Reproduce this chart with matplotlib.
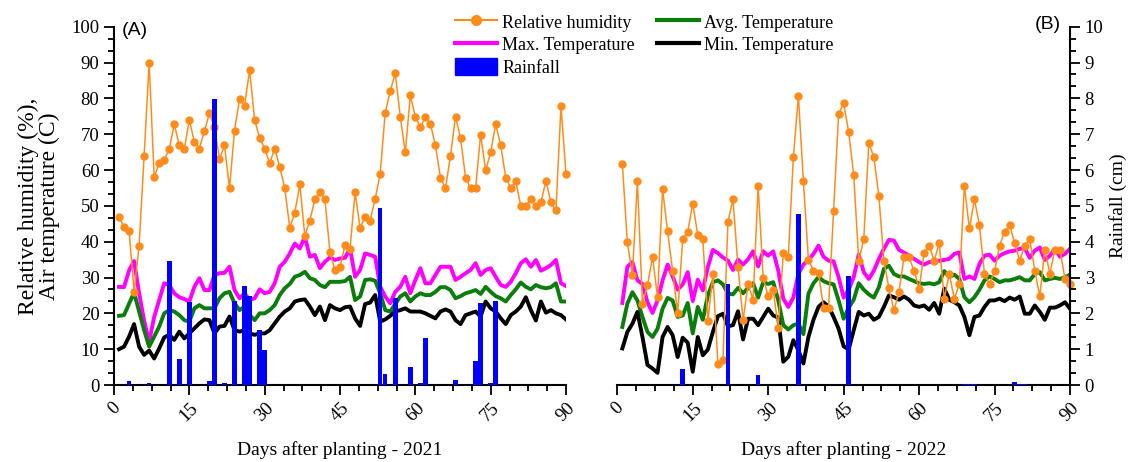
import matplotlib
matplotlib.use("Agg")
import matplotlib.pyplot as plt
import numpy as np
from matplotlib.lines import Line2D
from matplotlib.patches import Patch
from matplotlib.ticker import MultipleLocator

plt.rcParams['font.family'] = ['Liberation Serif', 'DejaVu Serif']

days = list(range(1, 91))

# ---------------- 2021 ----------------
rh_2021 = [47.0, 44.0, 43.1, 26, 38.9, 64, 90, 58, 62, 62.8,
           65.9, 72.8, 66.9, 65.9, 74, 67.8, 66, 70.9, 75.8, 72.1,
           63, 66.9, 54.9, 71, 79.9, 78, 87.9, 74, 68.9, 66,
           61.9, 66, 60.9, 54.9, 43.9, 48.1, 56, 41.6, 45.9, 51.9,
           54, 51.9, 37, 32.1, 33, 39, 38, 53.8, 43.9, 47,
           45.9, 51.9, 58.9, 76, 82, 87, 74.9, 64.9, 80.8, 74.9,
           71.9, 74.9, 72.9, 66.9, 57.9, 54.9, 64, 74.9, 68.9, 57.9,
           54.9, 54.9, 69.9, 59.9, 64.9, 72.8, 66.9, 57.9, 54.9, 56.9,
           49.9, 49.9, 51.9, 49.9, 51, 56.9, 51, 48.8, 77.9, 58.9]
tmax_2021 = [27.4, 27.3, 32, 34.6, 25.6, 18, 12.1, 19, 23.7, 28.4,
             27.9, 25.6, 24.5, 24, 23.3, 27.4, 29.8, 26.5, 26.5, 30.7,
             31.2, 31.3, 33, 26.5, 24.2, 25.6, 23.7, 24.2, 26.7, 25.6,
             26, 28.4, 33, 34.4, 36.7, 39.5, 38.1, 41.4, 35.8, 36.3,
             32.6, 34.4, 35.6, 34.9, 35.3, 35.5, 38.1, 30.2, 32.1, 36.7,
             36.3, 35.8, 27.4, 24.7, 22.8, 26, 27.4, 30.2, 25.6, 29.3,
             32.6, 28.4, 28.4, 30.7, 33, 33, 33, 29.3, 30.2, 31.2,
             32.1, 34, 30.7, 32.1, 32.6, 30.2, 27.9, 27.4, 28.8, 31.2,
             34, 35.1, 33, 34.9, 31.9, 32.6, 33.5, 34.9, 28.4, 27.6]
tavg_2021 = [19.3, 19.5, 22.7, 25.8, 20.5, 15.3, 10.7, 13.5, 16.3, 20,
             20.9, 20.5, 19.5, 18.1, 17.7, 21.4, 22.3, 21.4, 21.4, 21.4,
             24.2, 25.6, 26, 22.8, 20.9, 21.9, 19.5, 18.1, 20, 20,
             20.9, 22.3, 25.1, 27, 28.2, 30.2, 30.7, 31.6, 29.8, 29.3,
             27.9, 27.3, 28.8, 28.8, 28.8, 29, 30.2, 23.7, 24.7, 29.3,
             29.5, 29.1, 25.6, 20.9, 20.5, 22.6, 24.7, 25.6, 23.3, 24.7,
             25.6, 25.1, 25.1, 26, 27.3, 27.3, 26.5, 24.2, 24.8, 25.6,
             26, 26.5, 25.4, 27.4, 26, 24.8, 24.2, 23.3, 25.1, 26.7,
             28.6, 27.4, 26.7, 27.9, 27.3, 27, 27.3, 28.4, 23.3, 23.3]
tmin_2021 = [10, 10.7, 13.5, 17, 10.7, 8.4, 9.6, 7.4, 10.2, 13.3,
             14, 12.6, 14.9, 13, 14.4, 15.8, 17.2, 18.3, 18.1, 14.4,
             16.3, 16.5, 19.1, 15.3, 14.9, 15.3, 14.4, 14, 14.4, 14.4,
             15.3, 17.2, 19.1, 20.5, 21.4, 23.3, 23.7, 23.9, 21.9, 19.5,
             21.9, 18.1, 22.3, 21.4, 20.9, 21.7, 21.9, 18.6, 16.5, 22.6,
             23, 25.1, 17.7, 18.3, 19.3, 20.5, 20.9, 21.4, 20.5, 20.5,
             20.5, 20, 19.3, 18.6, 20.5, 21.1, 20.5, 18.1, 17, 19.5,
             20, 20.5, 19.1, 23.3, 21.4, 20.5, 18.6, 17, 19.5, 20.5,
             21.9, 24.5, 20.9, 18, 23.3, 20.2, 20.9, 20, 19.5, 18.3]
rain_day_2021 = [3, 7, 11, 13, 15, 19, 20, 22, 24, 26, 27, 29, 30,
                 53, 54, 56, 59, 61, 62, 68, 72, 73, 75, 76]
rain_cm_2021 = [0.1, 0.05, 3.47, 0.72, 2.33, 0.1, 7.97, 0.05, 2.34, 2.77, 2.47, 1.53, 0.98,
                4.93, 0.3, 2.44, 0.51, 0.05, 1.3, 0.14, 0.67, 2.28, 0.05, 2.34]

# ---------------- 2022 ----------------
rh_2022 = [61.8, 39.8, 30.8, 56.8, 22.7, 27.8, 35.8, 24.5, 54.6, 42.9,
           31.9, 20, 40.7, 42.8, 50.6, 41.9, 40.7, 17.9, 31, 6,
           6.9, 45.6, 51.9, 32.9, 18.1, 28.1, 23.8, 55.6, 29.9, 24.8,
           26.4, 16, 36.8, 35.8, 63.6, 80.6, 56.8, 34.9, 31.9, 31.2,
           21.6, 21.6, 48.6, 75.6, 78.6, 70.6, 58.6, 34.7, 40.7, 67.6,
           63.6, 52.8, 34.7, 27, 20.8, 26, 35.6, 35.6, 31.9, 26.9,
           36.8, 38.9, 34.7, 39.6, 24.1, 31, 24.1, 28.1, 55.6, 43.7,
           51.8, 44.6, 31, 28.1, 31.8, 38.9, 42.8, 44.6, 39.6, 34.7,
           38.9, 40.7, 31.9, 24.8, 37.8, 31, 37.8, 37.8, 29.6, 28.1]
tmax_2022 = [22.9, 33, 34.3, 29.2, 28.2, 23.1, 20.1, 23.6, 29.2, 33.6,
             30.3, 26.6, 28.1, 31.5, 23.4, 29.4, 26.4, 32.9, 37.7, 36.8,
             35.6, 34.7, 32.1, 35, 33.6, 35.1, 37.3, 33.1, 37.3, 36.1,
             37.3, 31.9, 24.1, 21.8, 24.4, 31, 33.6, 34.9, 36.6, 38.9,
             35.8, 34.7, 34.5, 30.1, 24.4, 26.6, 30.1, 36.4, 31.5, 29.6,
             31.9, 35.2, 38, 40.5, 40.3, 37.7, 37, 36.1, 35.2, 34.3,
             33.6, 34.3, 34.5, 34.7, 34.9, 35.2, 36.6, 37, 29.6, 30.3,
             29.6, 33.8, 36.1, 36.4, 34.7, 36.1, 36.8, 37.3, 37.5, 38,
             38.2, 35.5, 37.5, 38.4, 34.9, 36.1, 38, 35.8, 36.6, 38]
tavg_2022 = [16.2, 22.7, 25.9, 23.6, 19, 14.8, 13.4, 15.7, 21.3, 24.3,
             23.6, 19, 19.4, 22.9, 14.4, 21.8, 18.2, 25, 28.7, 29.2,
             28.1, 25.5, 25.3, 27.1, 25.6, 27.1, 28.4, 24.4, 28.7, 28.2,
             28.7, 23.6, 16.7, 15.5, 16.7, 17.1, 14.2, 25.5, 28.4, 30.1,
             29, 28.4, 28.1, 23.6, 18.5, 21.6, 23.8, 28.4, 26.6, 25.3,
             24.4, 27.3, 32.4, 33.3, 31, 30.3, 30.3, 29.6, 29, 28.4,
             28.2, 28.4, 28.1, 28.7, 31.8, 30.1, 30.8, 29.6, 24.5, 23.1,
             24.5, 26.6, 29.2, 30.3, 29.6, 28.7, 29.2, 29.2, 29.6, 30.1,
             29.2, 29.2, 31, 31.5, 29.2, 29.6, 29.9, 29.6, 30.1, 30.8]
tmin_2022 = [10.2, 14.8, 17.1, 20.4, 13.4, 5.6, 4.6, 3.4, 13.4, 16.2,
             13.9, 7.8, 13.2, 11.8, 3.7, 13.4, 8.3, 9.9, 14.8, 19.2,
             19.9, 16.4, 16.7, 20.6, 12.7, 18.5, 18.5, 16.7, 19, 21.3,
             19.4, 18.8, 6.5, 7.9, 12.5, 9.7, 6, 13.4, 18.2, 21.8,
             23.1, 21.9, 19, 15.7, 10.8, 9.9, 15.3, 20.4, 19.4, 19.9,
             18.2, 19, 21.8, 25, 24.5, 23.8, 24.7, 23.8, 22.2, 21.8,
             22.2, 21, 22.9, 19.9, 26.9, 23.8, 23.1, 22.2, 19, 13.9,
             19, 19.4, 21.8, 23.6, 23.6, 24.1, 23.4, 24.4, 23.8, 24.7,
             19.9, 19.9, 22.2, 20.4, 18.2, 21.6, 21.6, 22.2, 23.1, 21.3]
rain_day_2022 = [13, 22, 28, 36, 46, 69, 70, 71, 79, 80, 81]
rain_cm_2022 = [0.46, 2.82, 0.28, 4.77, 3.03, 0.03, 0.04, 0.03, 0.07, 0.04, 0.03]

x_ticks = [0, 15, 30, 45, 60, 75, 90]
left_yticks = list(range(0, 101, 10))
right_yticks = list(range(0, 11))

C_RH = '#FF8C1A'
C_MAX = '#FF00FF'
C_AVG = '#0B7D0B'
C_MIN = '#000000'
C_RAIN = '#0000FF'

W, H = 1131, 462
fig = plt.figure(figsize=(W / 100, H / 100), dpi=100)
ax1 = fig.add_axes([114 / W, 77 / H, 452 / W, 358.3 / H])
ax2 = fig.add_axes([617.3 / W, 77 / H, 452.7 / W, 358.3 / H])

panels = [
    (ax1, rh_2021, tmax_2021, tavg_2021, tmin_2021, rain_day_2021, rain_cm_2021,
     'Days after planting - 2021'),
    (ax2, rh_2022, tmax_2022, tavg_2022, tmin_2022, rain_day_2022, rain_cm_2022,
     'Days after planting - 2022'),
]

twins = []
for ax, rh, tmx, tav, tmn, rd, rc, xl in panels:
    ax.plot(days, tmx, color=C_MAX, lw=2.8, zorder=2)
    ax.plot(days, tav, color=C_AVG, lw=2.8, zorder=2)
    ax.plot(days, tmn, color=C_MIN, lw=2.8, zorder=2)
    ax.plot(days, rh, color=C_RH, lw=1.1, marker='o', ms=5, zorder=3, clip_on=False)
    ax.set_xlim(0, 90)
    ax.set_ylim(0, 100)
    ax.set_xticks(x_ticks)
    ax.xaxis.set_minor_locator(MultipleLocator(3.75))
    ax.set_xticklabels([str(t) for t in x_ticks], rotation=45, ha='center', fontsize=13.5)
    ax.set_xlabel(xl, fontsize=14, labelpad=12)
    ax.tick_params(axis='x', which='major', direction='out', length=7, width=1.3)
    ax.tick_params(axis='x', which='minor', direction='out', length=4.5, width=1.3)
    ax.spines['top'].set_visible(False)
    ax.spines['right'].set_visible(False)
    for s in ax.spines.values():
        s.set_linewidth(1.5)
    tw = ax.twinx()
    tw.bar(rd, rc, width=0.9, color=C_RAIN, zorder=4)
    tw.set_ylim(0, 10)
    tw.set_xlim(0, 90)
    for s in tw.spines.values():
        s.set_visible(False)
    twins.append(tw)

# left panel y axis
ax1.set_yticks(left_yticks)
ax1.yaxis.set_minor_locator(MultipleLocator(10 / 3))
ax1.tick_params(axis='y', which='major', direction='out', length=7, width=1.3, labelsize=13.5)
ax1.tick_params(axis='y', which='minor', direction='out', length=4, width=1.3)
ax1.set_ylabel('Relative humidity (%),\nAir temperature (C)', fontsize=17, labelpad=8,
               linespacing=1.0)
twins[0].set_yticks([])

# right panel y axis
ax2.spines['left'].set_visible(False)
ax2.set_yticks([])
ax2.tick_params(axis='y', which='both', left=False, labelleft=False)
tw2 = twins[1]
tw2.spines['right'].set_visible(True)
tw2.spines['right'].set_linewidth(1.5)
tw2.set_yticks(right_yticks)
tw2.yaxis.set_minor_locator(MultipleLocator(1 / 3))
tw2.tick_params(axis='y', which='major', direction='out', length=7, width=1.3, labelsize=13.5)
tw2.tick_params(axis='y', which='minor', direction='out', length=4, width=1.3)
tw2.set_ylabel('Rainfall (cm)', fontsize=14, labelpad=4)

fig.text(122 / W, 1 - 22 / H, '(A)', family='Liberation Sans', fontsize=14, va='top', ha='left')
fig.text(1035 / W, 1 - 16 / H, '(B)', family='Liberation Sans', fontsize=14, va='top', ha='left')

handles = [
    Line2D([], [], color=C_RH, lw=1.5, marker='o', ms=7),
    Line2D([], [], color=C_MAX, lw=3),
    Patch(facecolor=C_RAIN, edgecolor=C_RAIN),
    Line2D([], [], color=C_AVG, lw=3),
    Line2D([], [], color=C_MIN, lw=3),
]
labels = ['Relative humidity', 'Max. Temperature', 'Rainfall',
          'Avg. Temperature', 'Min. Temperature']
fig.legend(handles, labels, loc='upper left', bbox_to_anchor=(455 / W, 1 - 13 / H),
           ncol=2, frameon=False, fontsize=13, handlelength=2.33, handletextpad=0.3,
           columnspacing=1.2, labelspacing=0.2, handleheight=1.1, borderpad=0,
           borderaxespad=0, numpoints=1)

fig.savefig('out.png', dpi=100)
